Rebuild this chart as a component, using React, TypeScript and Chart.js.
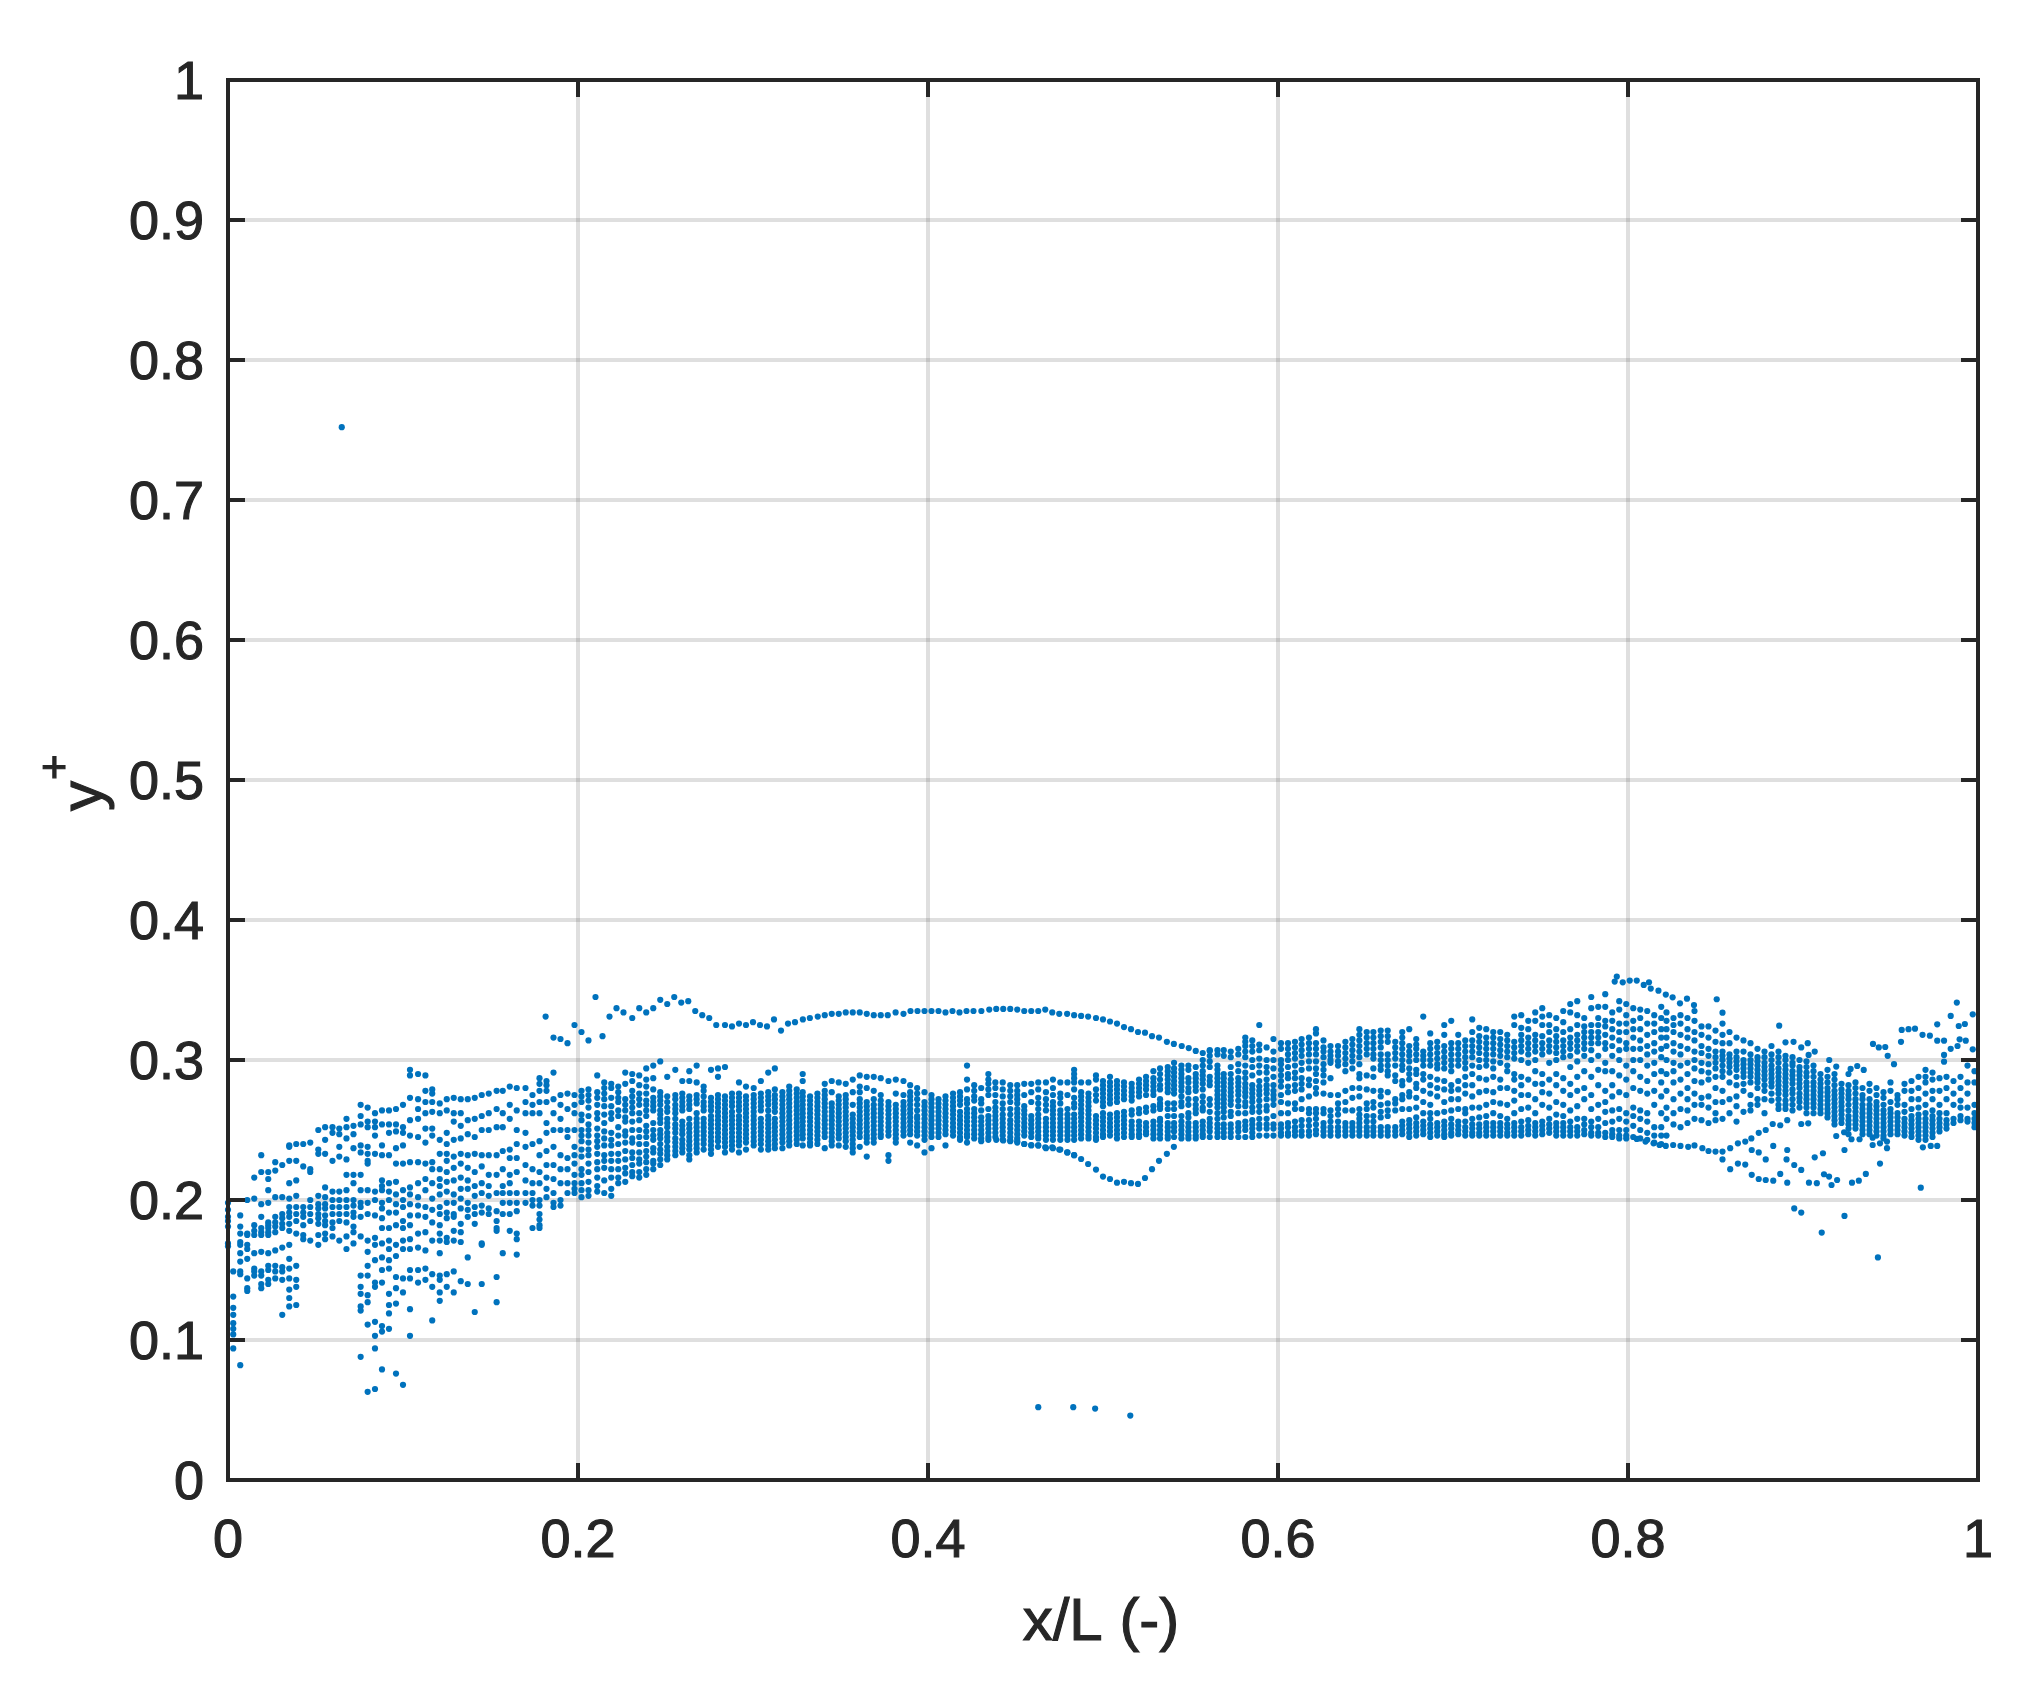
import { useEffect, useRef } from 'react'
import { Chart, registerables } from 'chart.js'
Chart.register(...registerables)

// all values below are read off the picture, in thousandths of the axis unit
// each column is [x, y, y, y ...]
const xTickValues = [0, 0.2, 0.4, 0.6, 0.8, 1]
const xTickLabels = ['0', '0.2', '0.4', '0.6', '0.8', '1']
const yTickValues = [0, 0.1, 0.2, 0.3, 0.4, 0.5, 0.6, 0.7, 0.8, 0.9, 1]
const yTickLabels = ['0', '0.1', '0.2', '0.3', '0.4', '0.5', '0.6', '0.7', '0.8', '0.9', '1']

const strayX = [65, 463, 483, 495.5, 515.6, 895, 899, 923.7, 910.7, 942.8, 967.3]
const strayY = [752, 52, 52, 51, 46, 194, 191, 188.6, 176.7, 159, 208.8]

const upperRidgeX = [181.5, 186, 190, 194, 198, 202, 206, 210, 214, 218, 222, 226, 231, 235, 239, 243, 247, 251, 255, 259, 263, 267, 271, 275, 279, 284, 288, 292, 296, 300, 304, 308, 312, 316, 320, 324, 328.5, 332.5, 337, 341, 345, 349, 353, 357, 361, 365, 369, 373, 377, 381.5, 386, 390, 394, 398, 402, 406, 410, 414, 418, 422, 426, 430.5, 435, 439, 443, 447, 451, 455, 459, 463, 467, 471, 475, 479.5, 483.5, 487.5, 491.5, 496, 500, 504, 508, 512, 516, 520, 524, 528, 532, 536.5, 540.5, 545, 549, 553, 557, 561]
const upperRidgeY = [331, 316, 315, 312, 325, 320, 314, 345, 317, 331, 337, 334, 330, 337, 334, 337, 343, 340, 345, 341, 342, 335, 332, 330, 325, 325, 324, 326, 325, 327, 325, 324, 329, 321, 326, 327, 329, 330, 331, 332, 333, 333, 334, 334, 334, 333, 332, 332, 332, 334, 333, 335, 335, 335, 335, 335, 334, 335, 334, 335, 335, 335, 336, 336.5, 336.5, 336.5, 336, 335, 335, 335, 336, 334, 333, 333, 332, 331.5, 331, 330, 329, 327.5, 326, 323.5, 322, 320, 319.5, 317, 316, 313, 311.5, 310, 308.5, 306.5, 305, 306.5]

const dipX = [439, 443, 447, 451, 455, 459, 463, 467, 471, 475, 479.5, 483.5, 487.5, 491.5, 496, 500, 504, 508, 512, 516, 520, 524, 528, 532, 536.5, 540.5]
const dipY = [243, 242.5, 242.5, 242, 240, 239.3, 239, 237.6, 237.6, 236, 234, 232, 229.3, 225.7, 221.7, 216.7, 215, 212.4, 213, 212, 211.5, 215.7, 222, 228, 233, 238]

const leftFan = [
  [0, 198, 193, 188, 185, 181, 169, 167],
  [3, 149, 131, 123, 118, 112, 108, 104, 94],
  [7, 189, 181, 176, 170, 168, 162, 156, 149, 147, 82],
  [11, 200, 176, 175, 168, 165, 158, 144, 137, 135],
  [15, 216, 201, 182, 178, 175, 162, 151, 149, 146],
  [19, 232, 220, 197, 188, 180, 177, 175, 163, 149, 146, 140, 137],
  [23, 220, 215, 207, 198, 184, 182, 180, 177, 175, 162, 153, 150, 143, 140],
  [27, 227, 221, 202, 188, 184, 181, 177, 164, 153, 149, 144],
  [31, 225, 202, 190, 187, 183, 180, 166, 152, 149, 143, 118],
  [35, 239, 238, 228, 212, 201, 195, 191, 188, 183, 178, 168, 158, 151, 144, 136, 130, 124],
  [39, 240, 228, 214, 203, 195, 190, 185, 176, 153, 143, 138, 125],
  [43, 240, 224, 195, 191, 188, 182, 175, 172],
  [47, 241, 222, 220, 200, 195, 190, 185, 171],
  [51.6, 250, 236, 233, 203, 197, 194, 190, 187, 183, 175, 168],
  [55.5, 252, 243, 233, 209, 202, 197, 194, 189, 185, 182, 176, 172],
  [59.7, 252, 248, 228, 206, 200, 195, 190, 184, 180, 174],
  [63.6, 251, 247, 238, 231, 206, 200, 195, 190, 185, 171],
  [67.7, 258, 252, 244, 229, 218, 207, 200, 195, 190, 184, 174, 165],
  [71.7, 253, 247, 237, 218, 212, 200, 196, 191, 188, 181, 177, 169],
  [75.8, 268, 260, 254, 239, 234, 218, 207, 198, 195, 188, 174, 146, 138, 133, 124, 121, 88],
  [79.8, 266, 256, 252, 238, 233, 228, 226, 207, 198, 190, 171, 163, 153, 146, 132, 127, 111, 63],
  [84, 262, 256, 252, 246, 233, 206, 200, 189, 173, 168, 157, 141, 138, 113, 103, 94, 65],
  [88, 264, 254, 239, 232, 214, 210, 207, 198, 194, 187, 180, 169, 159, 150, 141, 110, 106, 79],
  [92, 264, 254, 248, 232, 212, 206, 200, 191, 180, 171, 165, 157, 151, 133, 125, 119, 108],
  [96, 265, 254, 249, 237, 226, 213, 204, 197, 191, 182, 168, 160, 145, 137, 126, 76],
  [100, 268, 252, 248, 239, 226, 207, 200, 195, 185, 180, 171, 165, 144, 134, 68],
  [104, 293, 289, 273, 257, 246, 227, 209, 204, 197, 189, 182, 172, 165, 150, 144, 122, 103],
  [108.6, 290, 272, 265, 258, 245, 227, 212, 202, 196, 189, 176, 166, 150, 141],
  [112.8, 289, 278, 270, 262, 251, 241, 226, 215, 207, 195, 188, 177, 164, 151, 143],
  [116.7, 279, 276, 270, 263, 251, 246, 227, 222, 212, 201, 193, 184, 171, 147, 138, 114],
  [121, 269, 262, 243, 233, 222, 215, 210, 204, 195, 190, 182, 176, 171, 162, 146, 143, 134, 128],
  [125, 272, 264, 248, 240, 233, 228, 220, 213, 206, 198, 191, 187, 173, 170, 147, 138],
  [129, 273, 262, 256, 243, 231, 223, 214, 204, 198, 190, 188, 178, 171, 149, 134],
  [133, 272, 262, 253, 244, 233, 226, 216, 208, 201, 194, 183, 177, 170, 142],
  [137, 272, 257, 247, 232, 223, 214, 208, 198, 193, 188, 159, 140],
  [141, 273, 258, 245, 233, 220, 210, 203, 195, 190, 183, 120],
  [145, 275, 260, 250, 232, 224, 212, 205, 196, 191, 169, 168, 140],
  [149, 276, 262, 250, 232, 218, 210, 203, 194, 190],
  [153.5, 278, 265, 252, 232, 218, 205, 192, 185, 180, 178, 145, 127],
  [157, 278, 262, 252, 235, 222, 210, 205, 198, 190, 162],
  [161, 281, 268, 258, 236, 230, 218, 212, 205, 198, 190, 178],
  [165, 280, 264, 250, 240, 230, 220, 205, 198, 192, 176, 172, 161],
  [170, 280, 270, 262, 248, 238, 225, 214, 205, 198],
  [174, 275, 268, 262, 240, 222, 212, 205, 200, 196, 180],
  [178, 287, 283, 278, 270, 262, 242, 232, 220, 212, 200, 196, 190, 186, 182, 180],
  [182, 285, 282, 278, 270, 255, 248, 235, 225, 216, 208, 202],
  [186, 291, 272, 262, 250, 238, 225, 215, 205, 198, 195],
  [190, 275, 268, 258, 250, 232, 222, 212, 200, 196],
  [194, 276, 265, 250, 245, 230, 222, 212, 205],
  [198, 275, 268, 262, 250, 238, 232, 226, 218, 212, 208, 205],
]

const risingBand = [
  [202, 278, 274, 270, 261, 257, 250, 246, 242, 236, 231, 222, 218, 212, 207, 202],
  [206, 279, 275, 271, 266, 260, 254, 250, 246, 241, 236, 232, 226, 220, 213, 207, 203],
  [211, 289, 277, 273, 268, 262, 258, 251, 246, 242, 238, 233, 227, 222, 216, 210, 206],
  [215, 284, 280, 276, 272, 267, 261, 255, 249, 244, 239, 232, 228, 223, 214, 205],
  [219, 283, 280, 273, 267, 262, 258, 248, 243, 239, 233, 228, 222, 216, 208, 203],
  [223, 281, 277, 273, 270, 264, 260, 252, 246, 240, 233, 228, 222, 216, 212],
  [227, 291, 283, 272, 268, 264, 259, 256, 249, 246, 241, 235, 229, 223, 219, 213],
  [231, 290, 285, 278, 274, 270, 266, 262, 256, 250, 244, 241, 234, 230, 225, 220, 217],
  [235, 289, 282, 276, 272, 268, 262, 257, 250, 245, 240, 234, 229, 226, 220, 216],
  [239, 294, 286, 281, 276, 271, 268, 264, 260, 253, 249, 245, 240, 235, 231, 227, 222, 218],
  [243, 296, 287, 279, 273, 270, 267, 264, 255, 250, 246, 243, 237, 234, 228, 226, 222],
  [247, 299, 277, 274, 271, 268, 264, 261, 258, 255, 250, 247, 244, 240, 236, 233, 229, 225],
  [251, 288, 274, 270, 266, 263, 258, 255, 252, 248, 245, 242, 238, 235, 232, 229],
  [255.6, 293, 275, 272, 268, 265, 262, 258, 254, 251, 248, 244, 241, 238, 235, 232],
  [259.6, 285, 276, 273, 270, 267, 264, 256, 253, 250, 247, 243, 240, 237, 234],
  [263.6, 292, 285, 274, 271, 268, 265, 258, 254, 251, 248, 245, 242, 239, 236, 232, 229],
  [267.8, 296, 284, 275, 272, 269, 262, 258, 255, 252, 249, 246, 243, 240, 237, 234],
  [271.8, 281, 278, 274, 270, 267, 264, 258, 255, 252, 249, 246, 243, 240, 236],
  [276, 293, 273, 270, 267, 264, 260, 257, 254, 251, 248, 245, 242, 239, 236, 233],
  [280, 294, 288, 275, 272, 269, 266, 263, 260, 257, 254, 251, 248, 245, 242, 238],
  [284, 295, 274, 271, 268, 265, 262, 259, 256, 253, 250, 247, 244, 241, 238, 234],
  [288, 276, 273, 270, 267, 263, 260, 257, 254, 251, 248, 245, 242, 239, 236],
  [292, 284, 276, 273, 270, 267, 264, 260, 257, 254, 251, 248, 245, 242, 239, 234],
  [296, 281, 274, 271, 268, 265, 262, 259, 256, 253, 250, 247, 244, 241, 236],
  [300.4, 280, 275, 272, 269, 266, 263, 260, 257, 254, 251, 248, 245, 242, 239],
  [304.5, 285, 276, 273, 270, 267, 264, 258, 255, 252, 249, 246, 243, 240, 236],
  [308.7, 291, 277, 274, 271, 268, 264, 260, 257, 254, 251, 248, 245, 242, 239, 236],
  [312.5, 294, 279, 275, 272, 269, 266, 263, 258, 255, 252, 249, 246, 243, 240, 237],
  [316.8, 277, 274, 271, 268, 265, 262, 259, 256, 253, 250, 247, 244, 241, 237],
  [320.7, 281, 278, 275, 272, 269, 266, 263, 260, 257, 254, 251, 248, 245, 242, 239],
  [325, 279, 276, 273, 270, 267, 264, 261, 258, 255, 252, 249, 246, 243, 240],
]

const flatBand = [
  [328.4, 290, 285, 277, 274, 271, 268, 265, 262, 259, 256, 253, 250, 247, 244, 239],
  [332.6, 274, 271, 268, 265, 262, 259, 256, 253, 250, 247, 244, 241, 239],
  [336.8, 276, 273, 270, 267, 264, 261, 258, 255, 252, 249, 246, 243, 240],
  [341, 283, 278, 275, 272, 269, 266, 263, 260, 257, 254, 251, 248, 245, 237],
  [345, 285, 277, 269, 266, 263, 260, 257, 254, 251, 248, 245, 242, 239],
  [349, 284, 274, 271, 268, 265, 262, 259, 256, 253, 250, 247, 244, 239],
  [353, 283, 275, 272, 269, 266, 263, 260, 257, 254, 251, 248, 245, 242, 238],
  [357, 286, 277, 268, 261, 258, 255, 252, 249, 246, 243, 240, 237, 234],
  [361, 289, 281, 277, 272, 269, 266, 263, 260, 257, 254, 251, 248, 245, 238],
  [365, 288, 280, 270, 267, 264, 261, 258, 255, 252, 249, 246, 244, 241, 231],
  [369, 288, 278, 272, 268, 265, 262, 259, 256, 253, 250, 247, 244, 241],
  [373, 287, 275, 271, 268, 265, 262, 259, 256, 253, 250, 247, 245],
  [377.4, 285, 270, 267, 264, 261, 258, 255, 252, 249, 246, 232, 228],
  [381.6, 286, 276, 268, 265, 262, 259, 256, 253, 250, 247, 244, 241],
  [386, 285, 275, 270, 267, 264, 261, 258, 255, 252, 249, 246],
  [389.8, 282, 277, 274, 271, 268, 265, 262, 259, 256, 253, 250, 247, 241],
  [393.8, 280, 276, 272, 268, 264, 260, 258, 255, 252, 249, 246, 239],
  [398, 277, 270, 267, 264, 261, 258, 255, 252, 249, 246, 243, 234],
  [402, 275, 272, 269, 266, 263, 260, 257, 254, 251, 248, 245, 237],
  [406, 272, 269, 266, 263, 260, 257, 254, 251, 248, 245],
  [410, 274, 271, 268, 265, 262, 259, 256, 253, 250, 247, 239],
  [414.3, 276, 273, 270, 267, 264, 261, 258, 255, 252, 249, 246],
  [418.3, 277, 274, 271, 268, 263, 260, 257, 254, 251, 248, 245, 243],
  [422.3, 296, 286, 279, 272, 269, 265, 262, 259, 256, 253, 250, 247, 245, 241],
  [426.4, 282, 278, 274, 271, 265, 262, 259, 256, 253, 250, 247, 244],
  [430.4, 280, 272, 269, 264, 259, 256, 253, 250, 247, 244, 242],
  [434.5, 290, 286, 283, 279, 275, 265, 260, 257, 254, 251, 248, 245, 243],
  [438.5, 284, 280, 275, 270, 266, 263, 260, 257, 254, 251, 248, 245],
  [442.7, 284, 279, 274, 269, 265, 261, 258, 255, 252, 249, 246, 243],
  [447, 282, 278, 274, 270, 265, 261, 257, 254, 251, 248, 245, 242],
  [451, 282, 278, 275, 272, 269, 265, 262, 259, 256, 253, 250, 247, 244, 241],
  [455, 283, 275, 267, 264, 261, 258, 255, 252, 249, 246, 240],
  [459, 283, 277, 270, 260, 257, 254, 251, 248, 245, 239],
  [463, 284, 279, 273, 269, 265, 261, 258, 255, 252, 249, 246, 244, 239],
  [467.4, 284, 277, 272, 268, 264, 258, 255, 252, 249, 246, 243, 237],
  [471.4, 286, 280, 275, 270, 267, 264, 261, 258, 255, 252, 249, 246, 243, 237],
  [475.6, 284, 276, 273, 269, 264, 261, 258, 255, 252, 249, 246, 243, 236],
  [479.7, 284, 275, 265, 261, 258, 255, 252, 249, 246, 243, 234],
  [483.5, 293, 290, 287, 284, 279, 273, 269, 266, 261, 258, 255, 252, 249, 246, 243, 232],
  [487.5, 284, 277, 274, 271, 268, 265, 262, 259, 256, 253, 250, 247, 244],
  [491.7, 284, 276, 273, 270, 267, 264, 261, 258, 255, 252, 249, 246, 244],
  [496, 289, 286, 279, 275, 271, 260, 257, 254, 251, 248, 245, 243],
]

const splitBand = [
  [500, 285, 282, 279, 276, 273, 270, 267, 262, 259, 256, 253, 250, 247, 245],
  [504, 288, 284, 281, 278, 275, 272, 269, 261, 258, 255, 252, 249, 246],
  [508, 285, 282, 279, 276, 273, 270, 262, 259, 256, 253, 250, 247, 244],
  [512, 284, 281, 278, 275, 272, 263, 260, 257, 254, 251, 248, 245],
  [516.4, 283, 280, 277, 274, 271, 264, 261, 256, 253, 250, 247, 245],
  [520.6, 286, 283, 280, 277, 274, 265, 262, 256, 253, 250, 247, 245],
  [524.6, 288, 285, 282, 279, 275, 266, 263, 255, 252, 249, 247],
  [528.8, 292, 287, 284, 281, 278, 275, 267, 264, 256, 253, 250, 247, 244],
  [532.6, 294, 290, 286, 282, 279, 272, 269, 267, 265, 258, 256, 253, 250, 247, 244],
  [537, 295, 292, 289, 286, 283, 280, 277, 269, 265, 260, 255, 252, 249, 246, 244],
  [540.6, 298, 294, 291, 288, 285, 282, 279, 276, 269, 265, 260, 255, 252, 249, 245],
  [544.8, 296, 293, 290, 287, 284, 281, 278, 274, 270, 267, 260, 256, 253, 250, 247, 244],
  [548.8, 296, 293, 287, 284, 280, 277, 272, 268, 262, 259, 255, 252, 249, 246, 244],
  [553, 295, 290, 287, 284, 281, 278, 272, 268, 265, 262, 255, 252, 249, 246, 244],
  [557, 300, 296, 292, 289, 286, 283, 279, 274, 270, 266, 264, 256, 253, 250, 247, 245],
  [561, 307, 303, 299, 295, 288, 285, 282, 272, 268, 263, 258, 255, 252, 249, 245],
  [565.4, 307, 304, 296, 293, 290, 287, 284, 281, 278, 275, 272, 269, 266, 262, 258, 254, 251, 248, 245],
  [569, 307, 303, 290, 287, 284, 281, 278, 275, 272, 269, 266, 263, 259, 254, 251, 248, 245],
  [573, 306, 302, 295, 290, 286, 283, 280, 277, 274, 271, 268, 263, 260, 254, 251, 248, 245],
  [577.3, 308, 304, 297, 292, 287, 284, 281, 278, 275, 271, 267, 262, 255, 252, 249, 245],
  [581.3, 316, 313, 310, 306, 302, 296, 291, 287, 283, 280, 277, 274, 270, 267, 262, 256, 253, 250, 245],
  [585.3, 314, 310, 306, 300, 295, 289, 282, 279, 276, 273, 270, 266, 263, 257, 254, 251, 248, 245],
  [589.3, 325, 311, 307, 301, 296, 291, 285, 281, 278, 275, 271, 267, 263, 258, 254, 251, 246],
  [593.5, 309, 300, 295, 291, 286, 282, 279, 276, 272, 267, 264, 258, 254, 251, 246],
  [597.4, 315, 306, 300, 294, 288, 282, 278, 275, 272, 268, 260, 254, 251, 246],
  [601.7, 312, 308, 300, 297, 293, 289, 285, 281, 275, 270, 262, 254, 251, 248, 246],
  [605.7, 312, 308, 304, 300, 295, 290, 287, 281, 277, 269, 262, 255, 252, 248, 246],
  [609.7, 313, 309, 305, 301, 296, 291, 287, 282, 278, 269, 265, 256, 252, 249, 246],
  [613.5, 315, 311, 307, 303, 298, 293, 287, 283, 279, 272, 265, 257, 253, 249, 246],
  [617.7, 316, 312, 308, 304, 299, 294, 286, 282, 274, 265, 262, 257, 253, 249, 246],
  [621.7, 322, 319, 312, 308, 304, 299, 294, 290, 285, 280, 276, 265, 262, 258, 254, 250, 247],
  [626, 314, 309, 306, 302, 297, 293, 289, 284, 276, 265, 262, 255, 252, 249, 246],
  [630, 310, 306, 303, 300, 298, 287, 275, 264, 260, 256, 252, 249, 246],
  [634.3, 310, 306, 303, 299, 296, 275, 269, 265, 261, 256, 252, 249, 246],
  [638.5, 313, 309, 305, 301, 297, 292, 278, 270, 264, 255, 252, 249, 246],
  [642.5, 315, 311, 307, 303, 299, 294, 280, 273, 264, 255, 252, 249, 246],
  [646.5, 322, 318, 314, 310, 306, 302, 297, 290, 287, 280, 274, 265, 261, 258, 255, 252, 249, 246],
  [650.7, 320, 316, 312, 308, 304, 289, 279, 269, 265, 260, 256, 252, 249, 246],
  [654.5, 320, 316, 312, 308, 304, 301, 294, 288, 278, 270, 266, 260, 256, 252, 249, 246],
  [658.7, 321, 317, 313, 309, 304, 300, 296, 293, 278, 274, 268, 263, 259, 252, 249, 246],
  [662.7, 321, 317, 313, 304, 300, 296, 292, 289, 277, 269, 264, 260, 252, 249, 246],
  [667, 313, 309, 305, 301, 296, 289, 285, 272, 269, 264, 252, 249, 246],
]

const crossBand = [
  [671, 320, 316, 312, 308, 304, 300, 296, 293, 285, 282, 275, 272, 265, 256, 253, 250, 247],
  [675, 322, 310, 306, 303, 299, 294, 290, 286, 277, 274, 265, 257, 254, 251, 248, 245],
  [679, 315, 311, 308, 304, 300, 293, 290, 283, 280, 273, 266, 259, 255, 252, 249, 246],
  [683, 331, 306, 303, 300, 296, 290, 286, 278, 270, 262, 256, 253, 250, 247],
  [687, 319, 312, 308, 304, 300, 296, 288, 282, 276, 268, 262, 258, 254, 251, 248, 245],
  [691, 313, 309, 305, 301, 297, 294, 286, 280, 274, 262, 255, 252, 249, 246],
  [695, 325, 318, 310, 306, 302, 298, 294, 285, 279, 270, 263, 256, 253, 250, 247, 245],
  [699, 328, 312, 308, 304, 300, 296, 292, 282, 278, 272, 264, 258, 254, 251, 248, 246],
  [703, 318, 312, 308, 304, 300, 296, 285, 279, 272, 265, 256, 253, 250, 247],
  [707, 314, 310, 306, 302, 298, 294, 288, 282, 276, 265, 262, 256, 252, 249, 246],
  [711, 329, 320, 314, 310, 306, 302, 296, 290, 282, 274, 266, 258, 254, 251, 248, 246],
  [715, 323, 317, 313, 309, 305, 300, 295, 287, 277, 266, 259, 254, 251, 248, 246],
  [719, 322, 316, 312, 308, 304, 300, 296, 286, 278, 268, 260, 255, 252, 249, 246],
  [723, 320, 316, 312, 308, 304, 299, 294, 288, 277, 270, 262, 255, 252, 249, 246],
  [727, 320, 315, 311, 307, 303, 298, 286, 280, 269, 260, 255, 252, 249, 246],
  [731, 318, 314, 310, 306, 302, 296, 292, 280, 268, 258, 254, 251, 248, 246],
  [735, 331, 325, 313, 309, 305, 301, 290, 286, 278, 271, 262, 255, 252, 249, 246],
  [739, 332, 323, 318, 314, 310, 306, 300, 288, 282, 275, 265, 256, 252, 249, 246],
  [743, 328, 322, 316, 312, 308, 304, 298, 286, 275, 266, 257, 253, 250, 247],
  [747, 334, 328, 318, 314, 310, 306, 300, 292, 283, 272, 262, 255, 252, 249, 246],
  [751, 337, 331, 325, 317, 312, 308, 304, 290, 283, 277, 268, 256, 253, 250, 247],
  [755, 332, 325, 320, 314, 310, 306, 298, 286, 276, 266, 258, 254, 251, 248],
  [759, 330, 322, 317, 313, 309, 305, 300, 290, 282, 270, 261, 255, 252, 249, 246],
  [763, 335, 327, 320, 314, 310, 306, 302, 287, 278, 268, 260, 255, 252, 249, 246],
  [767, 340, 334, 322, 316, 312, 308, 303, 295, 283, 275, 264, 256, 252, 249, 246],
  [771, 342, 332, 325, 318, 314, 310, 306, 299, 288, 278, 267, 258, 252, 249, 246],
  [775, 330, 324, 320, 316, 312, 308, 303, 292, 280, 272, 258, 254, 250, 247],
  [779, 345, 337, 325, 320, 316, 312, 307, 300, 288, 275, 265, 256, 252, 248, 246],
  [783, 338, 330, 325, 320, 316, 312, 303, 293, 282, 268, 258, 252, 248, 246],
  [787, 347, 338, 328, 324, 318, 312, 308, 298, 292, 278, 270, 263, 255, 248, 245],
  [791, 334, 328, 322, 316, 310, 303, 292, 282, 274, 264, 256, 250, 247, 245],
  [795, 342, 336, 326, 320, 314, 307, 300, 289, 277, 265, 258, 250, 246, 244],
  [799, 340, 332, 326, 320, 312, 308, 296, 286, 275, 262, 256, 250, 246, 244],
  [803, 337, 328, 322, 316, 308, 300, 292, 280, 266, 260, 253, 245],
  [807, 336, 330, 322, 314, 308, 300, 288, 278, 264, 258, 250, 244],
  [811, 335, 326, 318, 310, 304, 296, 285, 276, 262, 256, 248, 243],
  [815, 332, 326, 320, 312, 306, 298, 290, 278, 268, 252, 246, 241],
  [819, 338, 330, 322, 316, 308, 302, 292, 284, 274, 262, 252, 246, 240],
]

const rightFan = [
  [822, 334, 328, 322, 316, 310, 300, 290, 278, 266, 258, 246],
  [826, 330, 325, 320, 312, 306, 298, 292, 284, 272, 262, 254],
  [830, 332, 326, 318, 310, 304, 296, 286, 276, 265, 252],
  [834, 330, 322, 316, 308, 298, 290, 280, 272, 264, 255],
  [838, 335, 328, 320, 314, 306, 300, 294, 285, 276, 268, 258],
  [842, 324, 318, 310, 305, 298, 292, 284, 273, 268, 257],
  [846, 324, 316, 308, 303, 297, 291, 286, 274, 266, 255],
  [850, 321, 313, 306, 302, 298, 294, 288, 280, 270, 262, 257],
  [854, 326, 318, 312, 306, 303, 300, 296, 292, 288, 278, 270, 258],
  [858, 320, 312, 304, 301, 298, 295, 291, 284, 272, 262],
  [862, 316, 306, 302, 299, 296, 293, 288, 282, 274, 267, 256],
  [866, 314, 306, 300, 297, 294, 291, 288, 283, 278, 263],
  [870, 312, 304, 300, 297, 294, 291, 288, 284, 275, 268, 264],
  [874, 308, 302, 299, 296, 293, 290, 287, 284, 280, 272, 268],
  [878, 306, 302, 298, 295, 292, 289, 286, 282, 278, 272, 262],
  [882, 310, 304, 300, 296, 293, 290, 287, 284, 281, 276, 271],
  [886, 306, 302, 298, 294, 291, 288, 285, 282, 279, 276, 272, 268, 265],
  [890, 303, 300, 296, 293, 290, 287, 284, 281, 278, 275, 271, 268, 265],
  [894, 302, 298, 296, 292, 289, 286, 283, 279, 276, 272, 268, 264],
  [898, 300, 295, 292, 289, 286, 283, 280, 276, 273, 270, 266],
  [902, 299, 295, 291, 288, 284, 281, 278, 275, 272, 269, 266, 262],
  [906, 296, 292, 288, 284, 281, 278, 275, 272, 269, 266, 262],
  [910, 290, 286, 283, 280, 277, 274, 271, 268, 265, 262],
  [914, 293, 288, 284, 280, 277, 274, 271, 268, 265, 262, 259],
  [918, 290, 286, 282, 278, 275, 272, 269, 266, 263, 260, 257, 254],
  [922, 283, 279, 276, 273, 270, 267, 264, 261, 258, 255],
  [926, 290, 282, 278, 275, 272, 268, 264, 260, 257, 254, 251, 247],
  [930, 284, 280, 276, 272, 269, 266, 263, 260, 257, 254, 251],
  [934, 280, 275, 272, 268, 265, 262, 259, 256, 253, 250, 247],
  [938, 283, 278, 272, 268, 265, 262, 259, 256, 253, 250, 247],
  [942, 280, 275, 270, 267, 264, 261, 258, 255, 252, 249, 246],
  [946, 277, 273, 268, 264, 261, 258, 255, 252, 249, 246, 244],
  [950, 284, 278, 270, 265, 262, 259, 256, 253, 250, 247],
  [954, 275, 272, 268, 262, 259, 256, 253, 250, 247],
  [958, 283, 278, 268, 263, 258, 255, 252, 249, 246],
  [962, 285, 278, 272, 265, 260, 257, 254, 251, 248, 245],
  [966, 288, 280, 272, 266, 261, 258, 255, 252, 249, 246, 243],
  [970, 293, 288, 284, 276, 268, 262, 258, 255, 252, 249, 246, 243],
  [974, 291, 286, 278, 272, 264, 260, 257, 254, 251, 248, 245],
  [978, 287, 278, 268, 262, 258, 255, 252, 249],
  [982, 288, 280, 272, 262, 257, 254, 251],
  [986, 285, 276, 268, 258, 255],
  [990, 288, 280, 271, 266, 260, 257],
  [994, 296, 284, 276, 266, 258, 256],
  [998, 292, 284, 268, 262, 258, 255, 252],
]

const peakX = [792.4, 793.6, 797, 801, 805, 809, 812, 813, 817.4, 821.6, 825.5, 829.7, 833.7, 837.7, 850.7, 854]
const peakY = [356, 359.6, 355.5, 356.7, 356.7, 353.6, 355.5, 351, 349.5, 346.7, 344.8, 340.5, 343.8, 339.3, 343.4, 333.8]

const lowArcX = [805, 810, 814.6, 818, 821.6, 825.8, 830, 834.4, 838, 842.5, 846, 850, 854, 858.4, 862.8, 867, 870.5, 874.7, 878.7, 882.7, 887, 891, 899, 903, 854, 858.4, 862.8, 867, 870.7, 874.7, 878.7, 870.7, 874.7, 878.7, 883, 887, 891, 883, 891, 890.6, 895, 899, 903.4, 907.9, 906.7, 911.4, 912, 914.9, 916.3, 919.5, 923.7, 928, 931.9, 935.9, 944, 919, 923.5, 927.7, 932.3, 939.8, 939.8, 944, 948, 948, 968.5, 973, 976.7]
const lowArcY = [243.6, 241.7, 240.5, 239.3, 238.6, 239.3, 238.6, 238, 239, 237, 235, 234.6, 234.6, 237, 240.5, 241.7, 244, 248, 250, 254.3, 253.4, 257, 254.3, 254.8, 229, 222, 226, 225.3, 235.7, 234, 229, 218, 215, 214.3, 213.8, 218.6, 212.4, 238.6, 235.7, 229, 225, 221.5, 212.4, 212, 230.5, 233.4, 218.4, 216.7, 210.7, 214.3, 235.7, 212.4, 213.8, 218.6, 226, 245.7, 248.4, 243.4, 243.4, 244.5, 239.3, 240.5, 241.7, 237, 237.6, 238.6, 238.6]

const upperRightX = [886.4, 890, 894.6, 899, 902.7, 906.7, 903.2, 915, 919, 927.2, 931, 934.7, 940, 943.3, 947, 948.4, 952, 956, 956.4, 960.3, 964, 968.3, 972.5, 976.7, 976.7, 980.6, 984.4, 987.9, 997, 989, 992.5, 989.5, 993, 988.3, 984.4, 997, 980.6, 980.6]
const upperRightY = [324.5, 312.6, 313, 309, 312, 306, 303.6, 300, 295.3, 293.6, 295.7, 292.9, 311.5, 309, 309.3, 303, 297, 313, 321.5, 322, 322.4, 318, 317.4, 325.5, 313.8, 313.8, 331.5, 341, 332.6, 324.3, 325.7, 314.8, 313.8, 310, 308, 307.6, 303.6, 298.8]

const columnGroups = [leftFan, risingBand, flatBand, splitBand, crossBand, rightFan]
const curveGroups = [
  [strayX, strayY],
  [upperRidgeX, upperRidgeY],
  [dipX, dipY],
  [peakX, peakY],
  [lowArcX, lowArcY],
  [upperRightX, upperRightY],
]

function buildPoints() {
  const pts: { x: number; y: number }[] = []
  for (const group of columnGroups) {
    for (const [x, ...ys] of group) {
      for (const y of ys) pts.push({ x: x / 1000, y: y / 1000 })
    }
  }
  for (const [xs, ys] of curveGroups) {
    xs.forEach((x, i) => pts.push({ x: x / 1000, y: ys[i] / 1000 }))
  }
  return pts
}

const INK = '#262626'
const FONT = '"Liberation Sans", Arial, sans-serif'

// matlab style box with the ticks pointing inwards, plus both axis labels
const boxPlugin = {
  id: 'box',
  afterDraw(chart: any) {
    const { ctx, chartArea: a, scales } = chart
    ctx.save()
    ctx.strokeStyle = INK
    ctx.lineWidth = 4
    ctx.lineCap = 'square'
    ctx.strokeRect(a.left, a.top, a.right - a.left, a.bottom - a.top)
    ctx.lineCap = 'butt'
    ctx.beginPath()
    const len = 17
    for (const v of xTickValues.slice(1, -1)) {
      const px = scales.x.getPixelForValue(v)
      ctx.moveTo(px, a.bottom)
      ctx.lineTo(px, a.bottom - len)
      ctx.moveTo(px, a.top)
      ctx.lineTo(px, a.top + len)
    }
    for (const v of yTickValues.slice(1, -1)) {
      const py = scales.y.getPixelForValue(v)
      ctx.moveTo(a.left, py)
      ctx.lineTo(a.left + len, py)
      ctx.moveTo(a.right, py)
      ctx.lineTo(a.right - len, py)
    }
    ctx.stroke()

    // the original glyphs are a touch heavier than Liberation, so stroke them too
    const label = (text: string, x: number, y: number, font: string) => {
      ctx.font = font
      ctx.fillText(text, x, y)
      ctx.strokeText(text, x, y)
    }
    ctx.fillStyle = INK
    ctx.lineWidth = 1.1
    ctx.textBaseline = 'alphabetic'
    ctx.textAlign = 'center'
    label('x/L (-)', 1101, 1640, `60px ${FONT}`)
    ctx.textAlign = 'left'
    ctx.translate(102, 811)
    ctx.rotate(-Math.PI / 2)
    label('y', 0, 0, `60px ${FONT}`)
    label('+', 31, -33, `44px ${FONT}`)
    ctx.restore()
  },
}

export default function App() {
  const canvasRef = useRef<HTMLCanvasElement>(null)

  useEffect(() => {
    if (!canvasRef.current) return

    const chart = new Chart(canvasRef.current, {
      type: 'scatter',
      data: {
        datasets: [
          {
            data: buildPoints(),
            backgroundColor: '#0072BD',
            borderWidth: 0,
            pointRadius: 3.1,
            clip: false,
          },
        ],
      },
      plugins: [boxPlugin],
      options: {
        animation: false,
        responsive: false,
        devicePixelRatio: 1,
        layout: { padding: { left: 0, right: 59, top: 80, bottom: 0 } },
        plugins: { legend: { display: false }, tooltip: { enabled: false } },
        scales: {
          x: {
            type: 'linear',
            min: 0,
            max: 1,
            afterBuildTicks: (scale: any) => {
              scale.ticks = xTickValues.map((value) => ({ value }))
            },
            afterFit: (scale: any) => {
              scale.height = 206
            },
            ticks: {
              autoSkip: false,
              maxRotation: 0,
              padding: 30,
              color: INK,
              textStrokeColor: INK,
              textStrokeWidth: 1.1,
              font: { family: FONT, size: 54 },
              callback: (_v: any, i: number) => xTickLabels[i],
            },
            grid: { color: 'rgba(38,38,38,0.15)', lineWidth: 4, drawTicks: false },
            border: { display: false },
          },
          y: {
            type: 'linear',
            min: 0,
            max: 1,
            afterBuildTicks: (scale: any) => {
              scale.ticks = yTickValues.map((value) => ({ value }))
            },
            afterFit: (scale: any) => {
              scale.width = 228
            },
            ticks: {
              autoSkip: false,
              padding: 24,
              labelOffset: 4,
              color: INK,
              textStrokeColor: INK,
              textStrokeWidth: 1.1,
              font: { family: FONT, size: 54 },
              callback: (_v: any, i: number) => yTickLabels[i],
            },
            grid: { color: 'rgba(38,38,38,0.15)', lineWidth: 4, drawTicks: false },
            border: { display: false },
          },
        },
      },
    })

    return () => chart.destroy()
  }, [])

  return (
    <div style={{ position: 'absolute', left: 0, top: 0, width: 2037, height: 1686, background: '#fff' }}>
      <canvas ref={canvasRef} width={2037} height={1686} style={{ display: 'block' }} />
    </div>
  )
}
